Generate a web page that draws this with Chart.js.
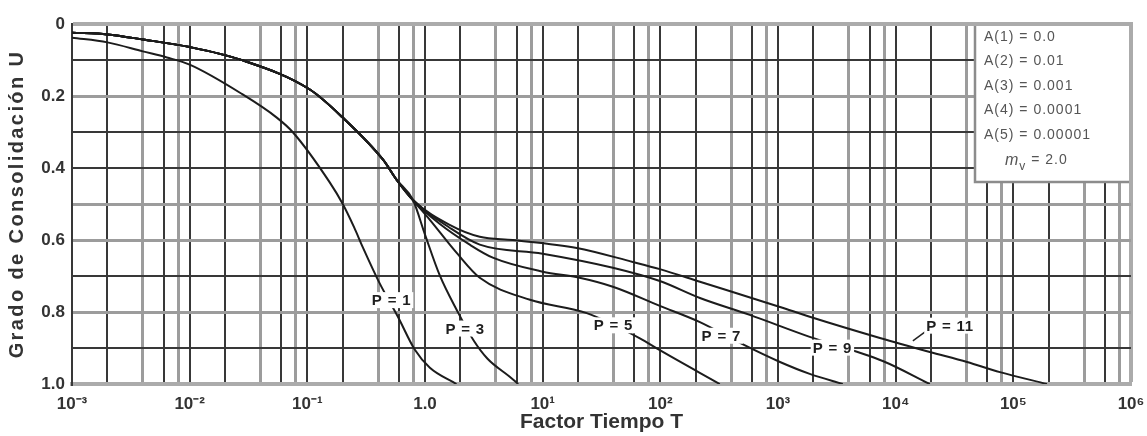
<!DOCTYPE html>
<html><head><meta charset="utf-8">
<script src="https://cdn.jsdelivr.net/npm/chart.js@4.4.1/dist/chart.umd.min.js"></script>
<style>html,body{margin:0;padding:0;background:#fff;}#wrap{width:1147px;height:436px;}</style>
</head><body><div id="wrap"><canvas id="c" width="1147" height="436"></canvas></div>
<script>
// ---- axis structure ----
const xTickPowers = [-3, -2, -1, 0, 1, 2, 3, 4, 5, 6];
const xTickLabels = ['10\u207B\u00B3', '10\u207B\u00B2', '10\u207B\u00B9', '1.0', '10\u00B9', '10\u00B2', '10\u00B3', '10\u2074', '10\u2075', '10\u2076'];
const xGridMultipliers = [1, 2, 4, 6, 8];
const xLightMultipliers = [4, 8];
const yTickValues = [0, 0.1, 0.2, 0.3, 0.4, 0.5, 0.6, 0.7, 0.8, 0.9, 1.0];
const yTickLabels = ['0', '', '0.2', '', '0.4', '', '0.6', '', '0.8', '', '1.0'];
const yLightValues = [0, 0.2, 0.5, 0.6, 0.8];

// ---- series ----
const seriesNames = ['P = 1', 'P = 3', 'P = 5', 'P = 7', 'P = 9', 'P = 11'];

const p1T = [0.001, 0.002, 0.004, 0.0064, 0.01, 0.028, 0.055, 0.075, 0.155, 0.2, 0.25, 0.295, 0.41, 0.59, 0.82, 1.1, 1.85];
const p1U = [0.038, 0.051, 0.076, 0.093, 0.113, 0.195, 0.26, 0.30, 0.44, 0.50, 0.565, 0.619, 0.719, 0.814, 0.905, 0.955, 1.0];

// common early part shared by P = 3 ... 11
const sharedT = [0.001, 0.002, 0.004, 0.01, 0.027, 0.105, 0.2, 0.44, 0.575, 0.79];
const sharedU = [0.024, 0.029, 0.043, 0.064, 0.099, 0.182, 0.26, 0.377, 0.433, 0.489];

const p3T = [1.0, 1.33, 1.9, 2.6, 3.4, 5.25, 6.2];
const p3U = [0.585, 0.697, 0.80, 0.88, 0.93, 0.98, 1.0];

const p5T = [1.1, 1.86, 2.92, 7.8, 23.7, 67, 99, 320];
const p5U = [0.544, 0.636, 0.705, 0.766, 0.803, 0.873, 0.906, 1.0];

const p7T = [1.33, 2.4, 3.77, 10, 20.6, 39.5, 99, 217, 475, 1040, 1860, 3550];
const p7U = [0.555, 0.613, 0.649, 0.688, 0.705, 0.730, 0.783, 0.828, 0.886, 0.939, 0.972, 1.0];

const p9T = [1.62, 2.92, 10, 39.5, 99, 217, 575, 1860, 7760, 19500];
const p9U = [0.566, 0.613, 0.638, 0.677, 0.714, 0.761, 0.808, 0.869, 0.936, 1.0];

const p11T = [1.62, 2.92, 5.57, 19.5, 58.3, 99, 217, 1040, 1860, 7350, 19500, 40400, 76900, 193000];
const p11U = [0.558, 0.591, 0.600, 0.622, 0.661, 0.681, 0.716, 0.786, 0.813, 0.872, 0.911, 0.939, 0.967, 1.0];

// curve label anchors (T, U)
const labelT = [0.52, 2.2, 40, 330, 2900, 29000];
const labelU = [0.767, 0.846, 0.837, 0.866, 0.899, 0.838];
const leaderT = [14000, 19000];
const leaderU = [0.880, 0.848];

// parameter box
const legendLines = ['A(1) = 0.0', 'A(2) = 0.01', 'A(3) = 0.001', 'A(4) = 0.0001', 'A(5) = 0.00001'];
const mvLabel = 'm';
const mvSub = 'v';
const mvValue = ' = 2.0';

// ---- build ----
function pts(T, U) { return T.map((t, i) => ({ x: t, y: U[i] })); }
const tails = [[p3T, p3U], [p5T, p5U], [p7T, p7U], [p9T, p9U], [p11T, p11U]];
const seriesData = [pts(p1T, p1U)].concat(tails.map(([t, u]) => pts(sharedT.concat(t), sharedU.concat(u))));

const xGridValues = [];
const xGridMult = [];
for (const p of xTickPowers) {
  for (const m of xGridMultipliers) {
    if (p === 6 && m > 1) continue;
    xGridValues.push(parseFloat((m * Math.pow(10, p)).toPrecision(6)));
    xGridMult.push(m);
  }
}

const FONT = '"Liberation Sans", Arial, sans-serif';
const DARK = '#383838';
const MID = '#9c9c9c';
const LIGHT = '#ababab';

function xGridStyle(c) {
  if (!c.tick) return [DARK, 2];
  const i = c.index;
  if (c.tick.value >= 1e6) return [LIGHT, 4];
  if (xLightMultipliers.includes(xGridMult[i])) return [MID, 3];
  return [DARK, 2];
}
function yGridStyle(c) {
  if (!c.tick) return [DARK, 2];
  const v = c.tick.value;
  if (v === 0) return [LIGHT, 4];
  if (yLightValues.some(t => Math.abs(t - v) < 1e-9)) return [MID, 3];
  return [DARK, 2];
}

const labelPlugin = {
  id: 'plabels',
  beforeDraw(chart) {
    const s = chart.scales.y;
    if (s && !s._lsPatched) {
      const orig = s.drawTitle;
      s.drawTitle = function () {
        const c = this.ctx; c.save(); c.letterSpacing = '2.4px'; orig.apply(this, arguments); c.restore();
      };
      s._lsPatched = true;
    }
  },
  afterDatasetsDraw(chart) {
    const ctx = chart.ctx, xs = chart.scales.x, ys = chart.scales.y;
    ctx.save();
    ctx.strokeStyle = '#222'; ctx.lineWidth = 1.5;
    ctx.beginPath();
    ctx.moveTo(xs.getPixelForValue(leaderT[0]), ys.getPixelForValue(leaderU[0]));
    ctx.lineTo(xs.getPixelForValue(leaderT[1]), ys.getPixelForValue(leaderU[1]));
    ctx.stroke();
    ctx.font = 'bold 15px ' + FONT;
    ctx.letterSpacing = '0.8px';
    ctx.textAlign = 'center'; ctx.textBaseline = 'middle';
    seriesNames.forEach((n, i) => {
      const px = xs.getPixelForValue(labelT[i]), py = ys.getPixelForValue(labelU[i]);
      const w = ctx.measureText(n).width;
      ctx.fillStyle = '#fff';
      ctx.fillRect(px - w / 2 - 2, py - 8, w + 4, 16);
      ctx.fillStyle = '#1e1e1e';
      ctx.fillText(n, px, py + 1);
    });
    ctx.restore();
  },
  afterDraw(chart) {
    const ctx = chart.ctx, a = chart.chartArea;
    ctx.save();
    const x0 = a.right - 156, y0 = a.top, x1 = a.right, y1 = a.top + 158;
    ctx.fillStyle = '#fff';
    ctx.fillRect(x0, y0, x1 - x0, y1 - y0);
    ctx.strokeStyle = '#8c8c8c'; ctx.lineWidth = 2.5;
    ctx.beginPath(); ctx.moveTo(x0, y0); ctx.lineTo(x0, y1); ctx.lineTo(x1, y1); ctx.stroke();
    ctx.strokeStyle = LIGHT; ctx.lineWidth = 4;
    ctx.beginPath(); ctx.moveTo(x0 - 2, y0); ctx.lineTo(x1, y0); ctx.lineTo(x1, y1 + 2); ctx.stroke();
    ctx.fillStyle = '#555';
    ctx.font = '14px ' + FONT;
    ctx.letterSpacing = '1px';
    ctx.textAlign = 'left'; ctx.textBaseline = 'middle';
    legendLines.forEach((t, i) => ctx.fillText(t, x0 + 9, y0 + 13 + i * 24.5));
    const my = y0 + 13 + 5 * 24.5 + 1;
    let mx = x0 + 30;
    ctx.font = 'italic 16px ' + FONT;
    ctx.fillText(mvLabel, mx, my); mx += ctx.measureText(mvLabel).width;
    ctx.font = '12px ' + FONT;
    ctx.fillText(mvSub, mx, my + 6); mx += ctx.measureText(mvSub).width;
    ctx.font = '14px ' + FONT;
    ctx.fillText(mvValue, mx, my);
    ctx.restore();
  }
};

new Chart(document.getElementById('c'), {
  type: 'line',
  data: {
    datasets: seriesData.map((d, i) => ({
      label: seriesNames[i],
      data: d,
      borderColor: '#1c1c1c',
      borderWidth: 2,
      pointRadius: 0,
      fill: false,
      cubicInterpolationMode: 'monotone'
    }))
  },
  options: {
    responsive: false,
    devicePixelRatio: 1,
    animation: false,
    layout: { padding: { left: 0, top: 24, right: 16, bottom: 0 } },
    plugins: { legend: { display: false }, tooltip: { enabled: false } },
    scales: {
      x: {
        type: 'logarithmic',
        min: 0.001, max: 1e6,
        afterBuildTicks(s) { s.ticks = xGridValues.map(v => ({ value: v })); },
        afterFit(s) { s.height = 52; s.paddingLeft = 0; s.paddingRight = 0; },
        ticks: {
          autoSkip: false, maxRotation: 0, padding: 10,
          color: '#333',
          font: { family: FONT, size: 17, weight: 'bold' },
          callback(v) {
            const p = Math.log10(v);
            const r = Math.round(p);
            if (Math.abs(p - r) > 1e-6) return '';
            const i = xTickPowers.indexOf(r);
            return i >= 0 ? xTickLabels[i] : '';
          }
        },
        grid: {
          drawTicks: false,
          color: (c) => xGridStyle(c)[0],
          lineWidth: (c) => xGridStyle(c)[1]
        },
        border: { display: true, color: LIGHT, width: 4 },
        title: {
          display: true, text: 'Factor Tiempo T', color: '#333',
          font: { family: FONT, size: 21, weight: 'bold' },
          padding: { top: 0, bottom: 1 }
        }
      },
      y: {
        type: 'linear',
        min: 0, max: 1, reverse: true,
        afterBuildTicks(s) { s.ticks = yTickValues.map(v => ({ value: v })); },
        afterFit(s) { s.width = 72; },
        ticks: {
          autoSkip: false, padding: 7, color: '#333',
          font: { family: FONT, size: 17, weight: 'bold' },
          callback(v) {
            const i = yTickValues.findIndex(t => Math.abs(t - v) < 1e-9);
            return i >= 0 ? yTickLabels[i] : '';
          }
        },
        grid: {
          drawTicks: false,
          color: (c) => yGridStyle(c)[0],
          lineWidth: (c) => yGridStyle(c)[1]
        },
        border: { display: true, color: DARK, width: 2 },
        title: {
          display: true, text: 'Grado de Consolidación U', color: '#333',
          font: { family: FONT, size: 20, weight: 'bold' },
          padding: { top: 5, bottom: 0 }
        }
      }
    }
  },
  plugins: [labelPlugin]
});
</script></body></html>
